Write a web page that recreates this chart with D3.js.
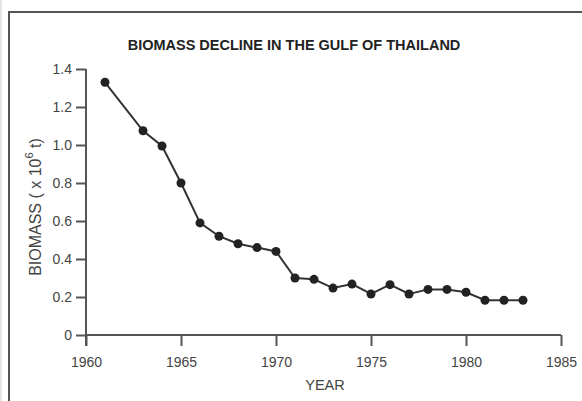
<!DOCTYPE html>
<html>
<head>
<meta charset="utf-8">
<script src="https://cdn.jsdelivr.net/npm/d3@7"></script>
<style>
  body { margin: 0; background: #fff; }
  svg { display: block; font-family: "Liberation Sans", Arial, sans-serif; }
</style>
</head>
<body>
<script>
const years = [1961, 1963, 1964, 1965, 1966, 1967, 1968, 1969, 1970, 1971, 1972,
  1973, 1974, 1975, 1976, 1977, 1978, 1979, 1980, 1981, 1982, 1983];
const biomass = [1.33, 1.075, 0.995, 0.80, 0.59, 0.52, 0.48, 0.46, 0.44, 0.30, 0.293,
  0.247, 0.268, 0.216, 0.265, 0.216, 0.24, 0.24, 0.225, 0.183, 0.183, 0.183];
const xTicks = [1960, 1965, 1970, 1975, 1980, 1985];
const yTicks = [0, 0.2, 0.4, 0.6, 0.8, 1.0, 1.2, 1.4];

const W = 582, H = 401;
const svg = d3.select("body").append("svg").attr("width", W).attr("height", H);

// outer frame
svg.append("rect")
  .attr("x", 9).attr("y", 12).attr("width", W).attr("height", H)
  .attr("fill", "none").attr("stroke", "#555").attr("stroke-width", 2);
svg.append("line")
  .attr("x1", 1).attr("x2", 1).attr("y1", 0).attr("y2", H)
  .attr("stroke", "#ccc").attr("stroke-width", 1);

const x = d3.scaleLinear().domain([1960, 1985]).range([86, 561]);
const y = d3.scaleLinear().domain([0, 1.4]).range([335, 69]);

const axisColor = "#555", textColor = "#444";

// y axis
const gy = svg.append("g").attr("transform", `translate(${x(1960)},0)`)
  .call(d3.axisLeft(y).tickValues(yTicks).tickSize(10).tickPadding(4)
    .tickFormat(d => d === 0 ? "0" : d3.format(".1f")(d)));
gy.select(".domain").attr("d", `M0,${y(1.4)}V${y(0) + 11}`);

// x axis
const gx = svg.append("g").attr("transform", `translate(0,${y(0)})`)
  .call(d3.axisBottom(x).tickValues(xTicks).tickSize(11).tickPadding(11)
    .tickFormat(d3.format("d")));
gx.select(".domain").attr("d", `M${x(1960)},0H${x(1985)}`);

[gx, gy].forEach(g => {
  g.selectAll(".domain, line").attr("stroke", axisColor).attr("stroke-width", 2);
  g.selectAll("text").attr("fill", textColor).style("font-size", "14px");
});

// line + markers
const pts = years.map((yr, i) => [yr, biomass[i]]);
svg.append("path")
  .datum(pts)
  .attr("fill", "none").attr("stroke", "#333").attr("stroke-width", 2)
  .attr("d", d3.line().x(d => x(d[0])).y(d => y(d[1])));
svg.selectAll("circle.pt").data(pts).join("circle")
  .attr("class", "pt")
  .attr("cx", d => x(d[0])).attr("cy", d => y(d[1])).attr("r", 4.5)
  .attr("fill", "#222");

// title
svg.append("text")
  .attr("x", 294).attr("y", 50).attr("text-anchor", "middle")
  .attr("fill", "#222").style("font-size", "14.5px").style("font-weight", "bold")
  .text("BIOMASS DECLINE IN THE GULF OF THAILAND");

// axis titles
svg.append("text")
  .attr("x", 325).attr("y", 390).attr("text-anchor", "middle")
  .attr("fill", textColor).style("font-size", "14.5px")
  .text("YEAR");

const yl = svg.append("text")
  .attr("transform", "translate(41,207) rotate(-90)")
  .attr("text-anchor", "middle")
  .attr("fill", textColor).style("font-size", "16px");
yl.append("tspan").text("BIOMASS ( x 10");
yl.append("tspan").attr("dy", -8).style("font-size", "11px").text("6");
yl.append("tspan").attr("dy", 8).text(" t)");
</script>
</body>
</html>
